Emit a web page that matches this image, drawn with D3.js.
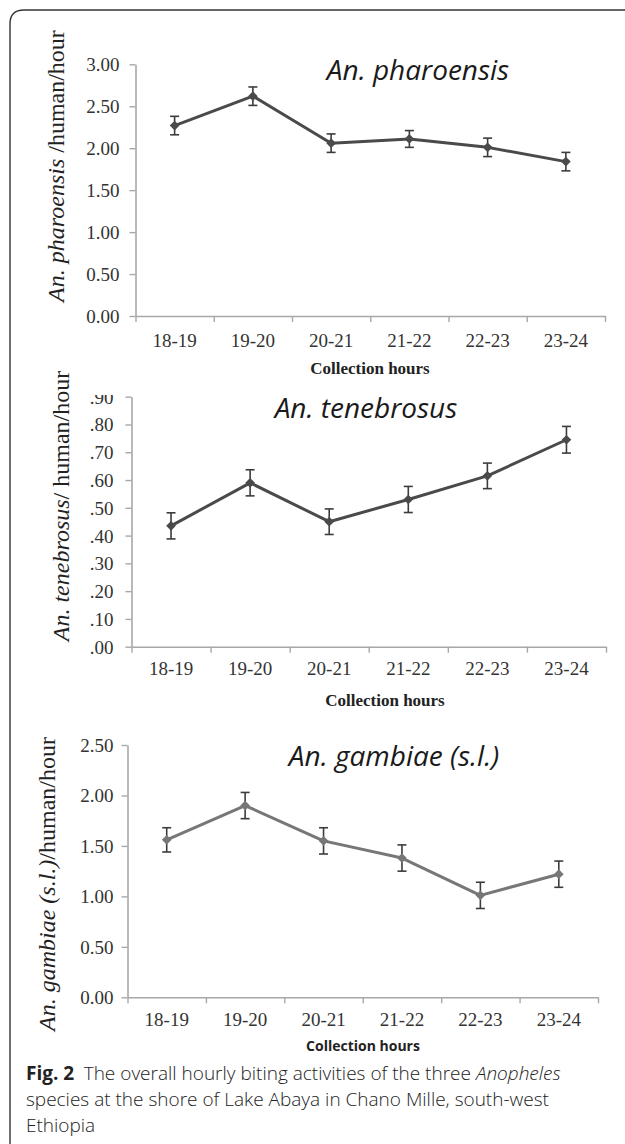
<!DOCTYPE html>
<html>
<head>
<meta charset="utf-8">
<script src="https://cdnjs.cloudflare.com/ajax/libs/d3/7.8.5/d3.min.js"></script>
<style>
  body { margin: 0; background: #fff; }
  svg { display: block; }
</style>
</head>
<body>
<svg class="chart"></svg>
<script>
var width = 625, height = 1144;

// data
var hours = ["18-19", "19-20", "20-21", "21-22", "22-23", "23-24"];

var pharoensis    = [2.27, 2.62, 2.06, 2.11, 2.01, 1.84];
var pharoensisErr = [0.11, 0.11, 0.11, 0.10, 0.11, 0.11];
var pharoensisTicks = [0, 0.5, 1, 1.5, 2, 2.5, 3];

var tenebrosus    = [0.435, 0.59, 0.45, 0.53, 0.615, 0.745];
var tenebrosusErr = [0.047, 0.047, 0.046, 0.047, 0.046, 0.048];
var tenebrosusTicks = [0, 0.1, 0.2, 0.3, 0.4, 0.5, 0.6, 0.7, 0.8, 0.9];

var gambiae    = [1.56, 1.90, 1.55, 1.38, 1.01, 1.22];
var gambiaeErr = [0.12, 0.13, 0.13, 0.13, 0.13, 0.13];
var gambiaeTicks = [0, 0.5, 1, 1.5, 2, 2.5];

var chart = d3.select(".chart")
    .attr("width", width)
    .attr("height", height);

// frame with rounded top-left corner (page continues right/bottom)
chart.append("path")
    .attr("d", "M 630 10 H 24 Q 10 10 10 24 V 1150")
    .attr("fill", "none")
    .attr("stroke", "#333")
    .attr("stroke-width", 1.4);

// top of the middle panel was cropped in the original, cutting the ".90" label
chart.append("defs").append("clipPath")
    .attr("id", "clip2")
    .append("rect")
    .attr("x", 0).attr("y", 395).attr("width", width).attr("height", 400);

var serif = "'Liberation Serif', 'Times New Roman', serif";
var sans = "'Open Sans', 'Noto Sans', sans-serif";

function drawPanel(p) {
    var g = chart.append("g");

    var x = d3.scaleBand().domain(hours).range([p.x0, p.x1]).padding(0);
    var xb = d3.scaleLinear().domain([0, hours.length]).range([p.x0, p.x1]);
    var y = d3.scaleLinear().domain(p.domain).range([p.yBot, p.yTop]);

    // y axis
    var yWrap = g.append("g");
    if (p.clip) yWrap.attr("clip-path", "url(#" + p.clip + ")");
    var yAxis = yWrap.append("g")
        .attr("transform", "translate(" + p.x0 + ",0)")
        .call(d3.axisLeft(y).tickValues(p.ticks).tickFormat(p.fmt)
              .tickSize(6).tickSizeOuter(0).tickPadding(p.yPad));
    yAxis.select(".domain").attr("stroke", "#a8a8a8").attr("stroke-width", 1.6);
    yAxis.selectAll(".tick line").attr("stroke", "#a8a8a8").attr("stroke-width", 1.4);
    yAxis.selectAll("text")
        .attr("font-family", serif).attr("font-size", 19).attr("fill", "#333")
        .attr("dy", "0.34em");

    // x axis: ticks on band boundaries, labels at band centres
    var xTicks = g.append("g")
        .attr("transform", "translate(0," + p.yBot + ")")
        .call(d3.axisBottom(xb).tickValues(d3.range(hours.length + 1))
              .tickFormat("").tickSize(6).tickSizeOuter(0));
    xTicks.select(".domain").attr("stroke", "#a8a8a8").attr("stroke-width", 1.6);
    xTicks.selectAll(".tick line").attr("stroke", "#a8a8a8").attr("stroke-width", 1.4);

    var xLabels = g.append("g")
        .attr("transform", "translate(0," + p.yBot + ")")
        .call(d3.axisBottom(x).tickSize(0).tickPadding(0));
    xLabels.select(".domain").remove();
    xLabels.selectAll("text")
        .attr("dy", null).attr("y", p.xLabY)
        .attr("font-family", serif).attr("font-size", 19).attr("fill", "#333");

    // axis titles
    g.append("text")
        .attr("x", p.xTitle[0]).attr("y", p.xTitle[1])
        .attr("text-anchor", "middle")
        .attr("font-family", p.xTitleFont).attr("font-weight", "bold")
        .attr("font-size", p.xTitleSize).attr("fill", "#222")
        .text("Collection hours");

    var yt = g.append("text")
        .attr("transform", "translate(" + p.yTitle[0] + "," + p.yTitle[1] + ") rotate(-90)")
        .attr("text-anchor", "middle")
        .attr("font-family", serif).attr("font-size", 24).attr("fill", "#222");
    yt.append("tspan").attr("font-style", "italic").text(p.yName);
    yt.append("tspan").text(p.yUnit);

    // panel title
    g.append("text")
        .attr("x", p.title[0]).attr("y", p.title[1])
        .attr("text-anchor", "middle")
        .attr("font-family", sans).attr("font-style", "italic")
        .attr("font-size", 28).attr("fill", "#1a1a1a")
        .text(p.name);

    var rows = hours.map(function(h, i) {
        return {h: h, v: p.values[i], e: p.errors[i]};
    });
    var cx = function(d) { return x(d.h) + x.bandwidth() / 2; };

    // line
    g.append("path")
        .datum(rows)
        .attr("fill", "none")
        .attr("stroke", p.color)
        .attr("stroke-width", 3)
        .attr("stroke-linejoin", "round")
        .attr("d", d3.line().x(cx).y(function(d) { return y(d.v); }));

    // error bars
    var eb = g.selectAll(".err").data(rows).enter().append("g")
        .attr("stroke", "#3c3c3c").attr("stroke-width", 1.6);
    eb.append("line")
        .attr("x1", cx).attr("x2", cx)
        .attr("y1", function(d) { return y(d.v - d.e); })
        .attr("y2", function(d) { return y(d.v + d.e); });
    eb.append("line")
        .attr("x1", function(d) { return cx(d) - 4.5; })
        .attr("x2", function(d) { return cx(d) + 4.5; })
        .attr("y1", function(d) { return y(d.v + d.e); })
        .attr("y2", function(d) { return y(d.v + d.e); });
    eb.append("line")
        .attr("x1", function(d) { return cx(d) - 4.5; })
        .attr("x2", function(d) { return cx(d) + 4.5; })
        .attr("y1", function(d) { return y(d.v - d.e); })
        .attr("y2", function(d) { return y(d.v - d.e); });

    // diamond markers
    g.selectAll(".pt").data(rows).enter().append("path")
        .attr("d", d3.symbol().type(d3.symbolDiamond2).size(60))
        .attr("transform", function(d) { return "translate(" + cx(d) + "," + y(d.v) + ")"; })
        .attr("fill", p.color);
}

var fmt2 = d3.format(".2f");

drawPanel({
    values: pharoensis, errors: pharoensisErr, ticks: pharoensisTicks,
    domain: [0, 3], fmt: fmt2,
    x0: 135.5, x1: 605, yTop: 64.3, yBot: 316, yPad: 10, xLabY: 31,
    color: "#4a4a4a",
    name: "An. pharoensis", title: [418, 80],
    yName: "An. pharoensis", yUnit: " /human/hour", yTitle: [64, 166],
    xTitle: [370, 374], xTitleFont: serif, xTitleSize: 17
});

drawPanel({
    values: tenebrosus, errors: tenebrosusErr, ticks: tenebrosusTicks,
    domain: [0, 0.9], fmt: function(d) { return fmt2(d).replace(/^0/, ""); },
    x0: 131.5, x1: 606, yTop: 396.7, yBot: 646.7, yPad: 12, xLabY: 28,
    color: "#4a4a4a", clip: "clip2",
    name: "An. tenebrosus", title: [366, 418],
    yName: "An. tenebrosus", yUnit: "/ human/hour", yTitle: [69, 506],
    xTitle: [385, 706], xTitleFont: serif, xTitleSize: 17
});

drawPanel({
    values: gambiae, errors: gambiaeErr, ticks: gambiaeTicks,
    domain: [0, 2.5], fmt: fmt2,
    x0: 127.5, x1: 598, yTop: 745, yBot: 997.3, yPad: 8, xLabY: 29,
    color: "#777777",
    name: "An. gambiae (s.l.)", title: [394, 766],
    yName: "An. gambiae (s.l.)", yUnit: "/human/hour", yTitle: [55, 884],
    xTitle: [363, 1051], xTitleFont: sans, xTitleSize: 14
});

// caption
var cap = chart.append("text")
    .attr("font-family", sans).attr("font-size", 19).attr("fill", "#222");
var l1 = cap.append("tspan").attr("x", 26).attr("y", 1080);
l1.append("tspan").attr("font-weight", "bold").text("Fig. 2");
l1.append("tspan").attr("font-weight", 300).text("\u2002The overall hourly biting activities of the three ");
l1.append("tspan").attr("font-weight", 300).attr("font-style", "italic").text("Anopheles");
cap.append("tspan").attr("x", 26).attr("y", 1106).attr("font-weight", 300)
    .text("species at the shore of Lake Abaya in Chano Mille, south-west");
cap.append("tspan").attr("x", 26).attr("y", 1132).attr("font-weight", 300)
    .text("Ethiopia");
</script>
</body>
</html>
